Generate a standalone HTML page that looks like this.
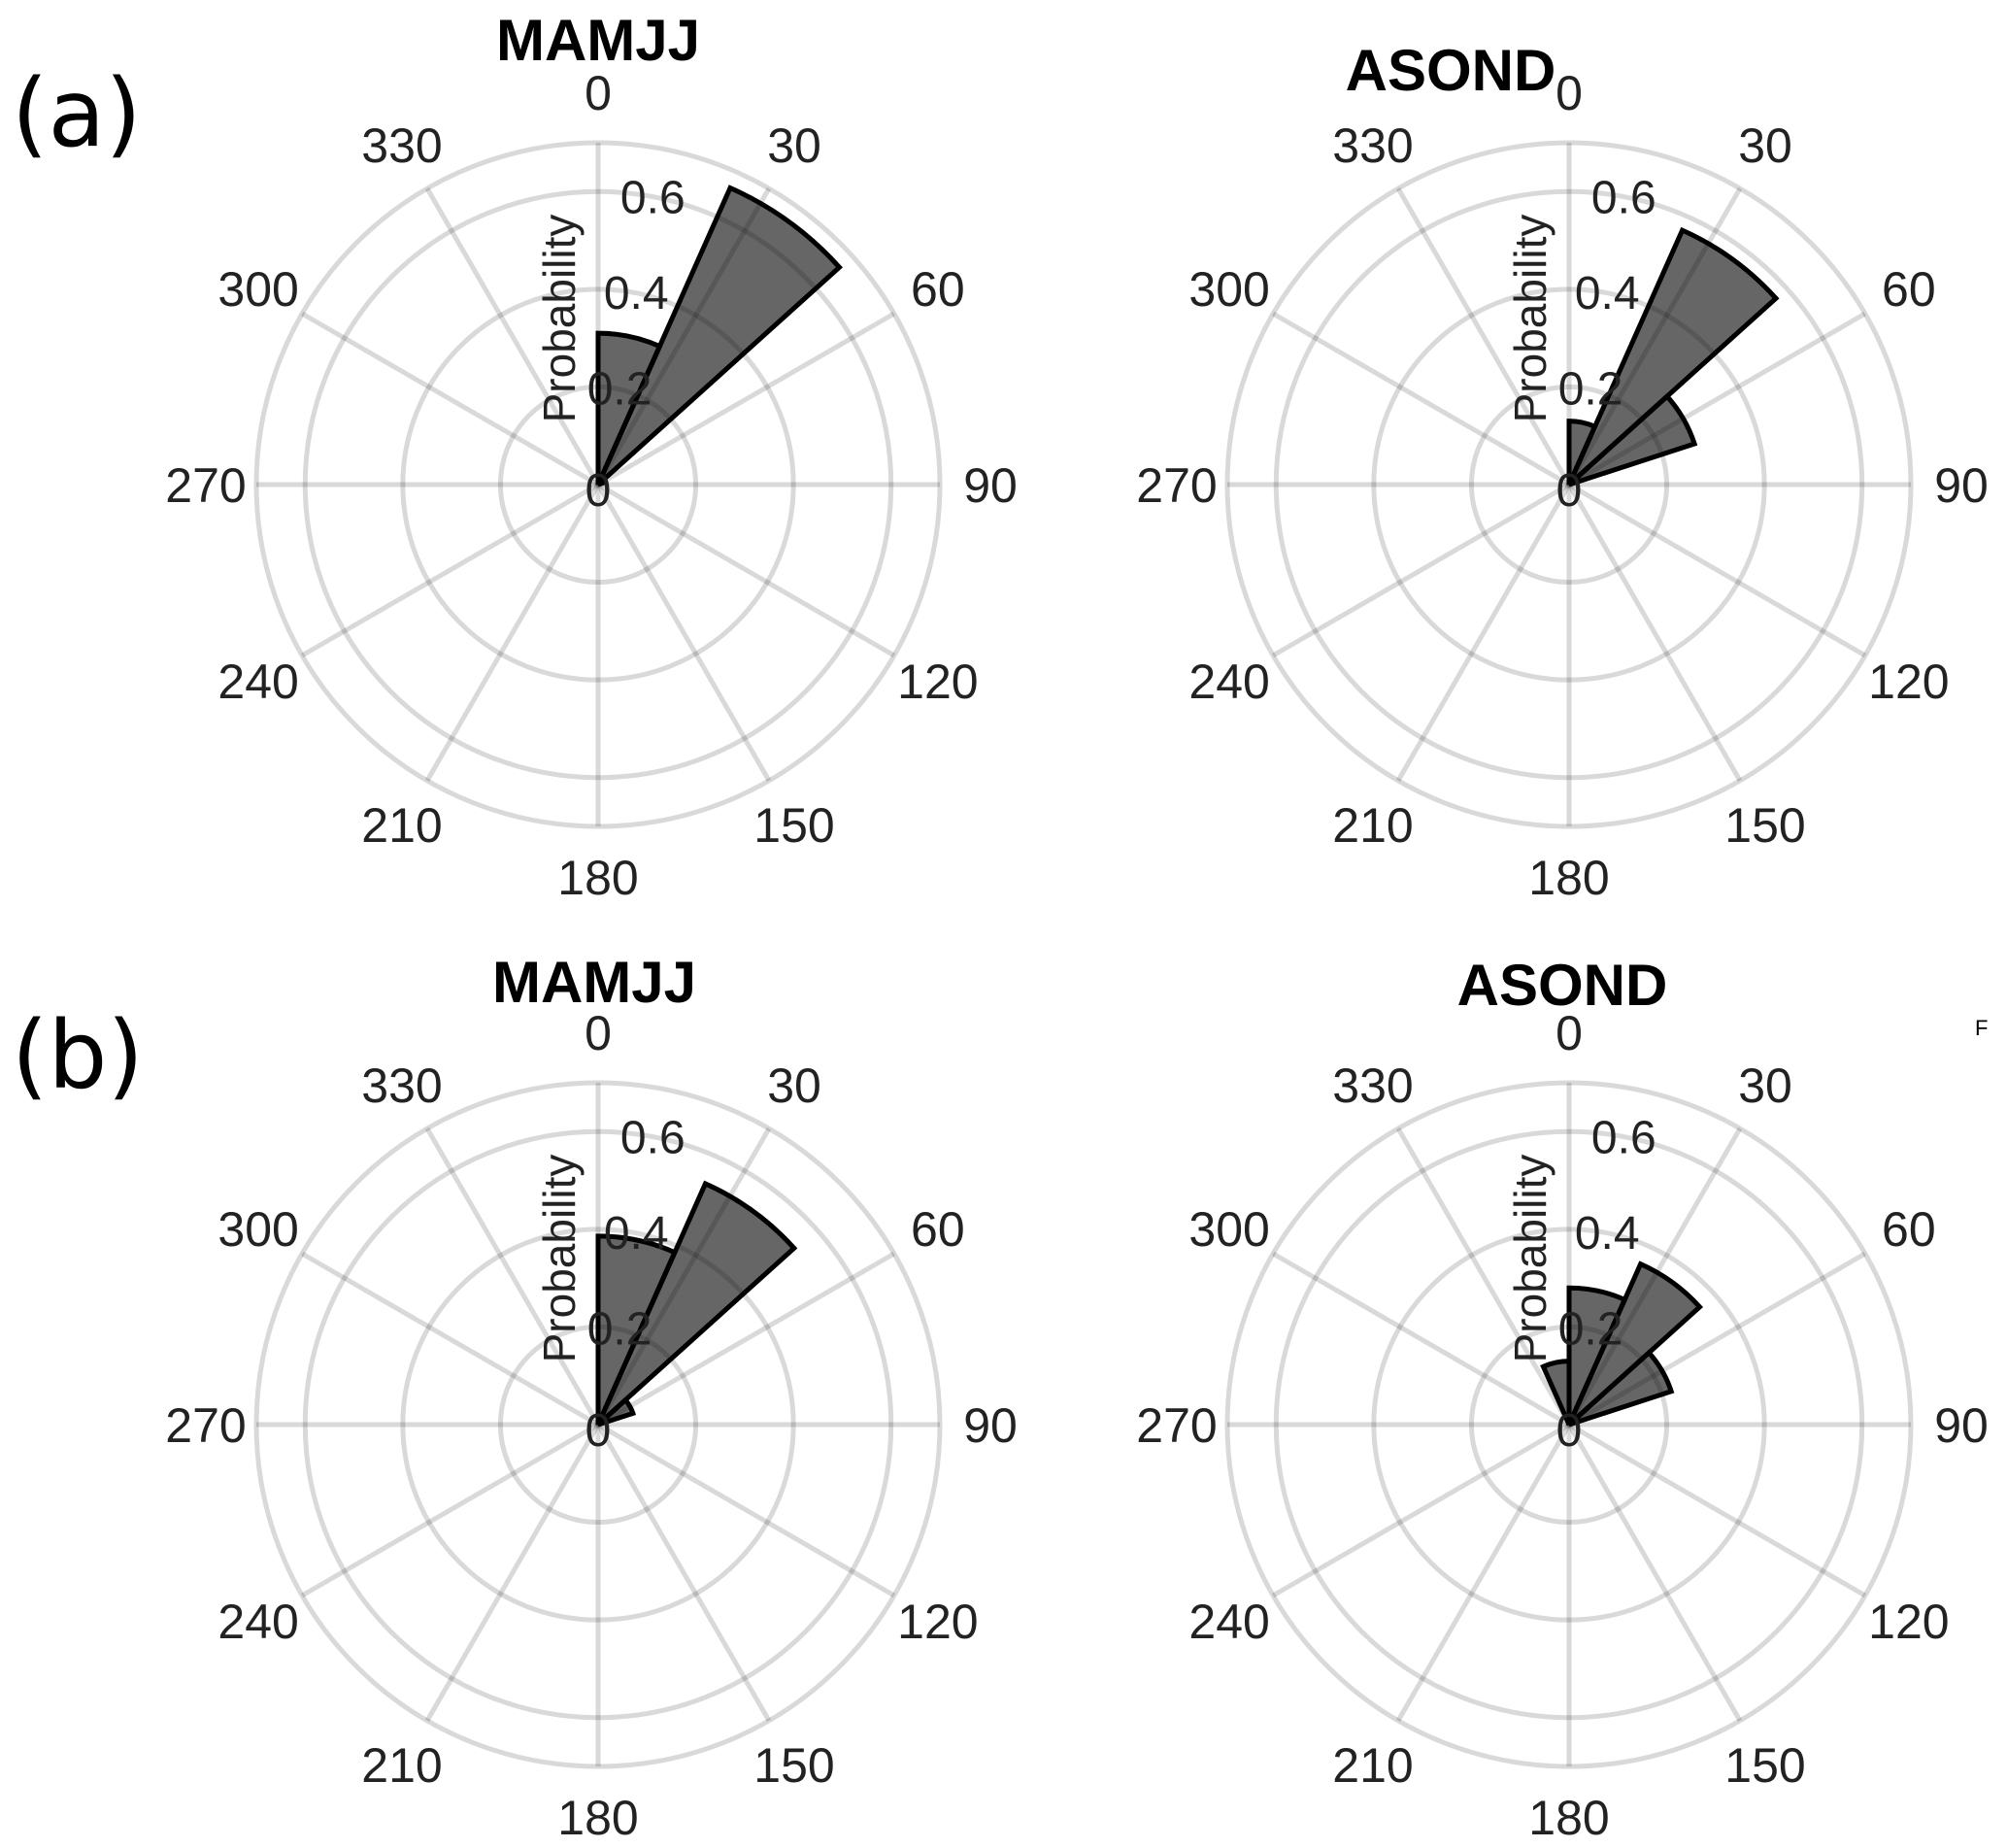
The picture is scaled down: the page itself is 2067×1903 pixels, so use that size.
<!DOCTYPE html>
<html><head><meta charset="utf-8"><style>
html,body{margin:0;padding:0;background:#fff;}
svg{display:block;}
</style></head><body>
<svg id="fig" width="2067" height="1903" viewBox="0 0 2067 1903" xmlns="http://www.w3.org/2000/svg" font-family="Liberation Sans, Arial, sans-serif">
<text x="12" y="150" font-family="DejaVu Sans, sans-serif" font-size="96" fill="#000">(a)</text>
<text x="12" y="1120" font-family="DejaVu Sans, sans-serif" font-size="96" fill="#000">(b)</text>
<text x="2034" y="1066" font-size="22" fill="#000">F</text>
</svg>
<script>
// Shared polar data
const binEdgesDeg = [0,24,48,72,96,120,144,168,192,216,240,264,288,312,336];
const binWidthDeg = 24;
const ringValues = [0.2, 0.4, 0.6];
const ringLabels = ["0.2", "0.4", "0.6"];
const rMax = 0.7;
const angleTicks = [0,30,60,90,120,150,180,210,240,270,300,330];
const angleLabels = ["0","30","60","90","120","150","180","210","240","270","300","330"];
// Per-panel probability values (one per 24° bin, clockwise from north)
const probA_MAMJJ = [0.31,0.665,0.01,0,0,0,0,0,0,0,0,0,0,0,0];
const probA_ASOND = [0.13,0.57,0.27,0,0,0,0,0,0,0,0,0,0,0,0];
const probB_MAMJJ = [0.386,0.54,0.075,0,0,0,0,0,0,0,0,0,0,0,0];
const probB_ASOND = [0.28,0.36,0.22,0,0,0,0,0,0,0,0,0,0,0,0.13];
const panelTitles = ["MAMJJ","ASOND","MAMJJ","ASOND"];

const NS = "http://www.w3.org/2000/svg";
const svg = document.getElementById('fig');
const R = 352;
function rScale(v){ return v / rMax * R; }
function pt(cx, cy, deg, r){ const a = deg*Math.PI/180; return [cx + r*Math.sin(a), cy - r*Math.cos(a)]; }
function mk(tag, attrs, parent){ const e = document.createElementNS(NS, tag); for (const k in attrs) e.setAttribute(k, attrs[k]); (parent||svg).appendChild(e); return e; }

function drawPanel(cx, cy, values, title, titleX, titleY, key){
  const g = mk('g', {});
  
  
  const grid = '#000';
  ringValues.concat([rMax]).forEach((v)=>{
    const c = mk('circle', {cx:cx, cy:cy, r:rScale(v), fill:'none', stroke:grid, 'stroke-opacity':0.15, 'stroke-width':5}, g);
    
    
  });
  angleTicks.forEach((a)=>{
    const p = pt(cx, cy, a, R);
    const l = mk('line', {x1:cx, y1:cy, x2:p[0], y2:p[1], stroke:grid, 'stroke-opacity':0.15, 'stroke-width':5}, g);
    
    
  });
  values.forEach((v, i)=>{
    if (v <= 0) return;
    const a0 = binEdgesDeg[i], a1 = a0 + binWidthDeg;
    const r = rScale(v);
    const p0 = pt(cx, cy, a0, r), p1 = pt(cx, cy, a1, r);
    const d = `M${cx},${cy} L${p0[0]},${p0[1]} A${r},${r} 0 0 1 ${p1[0]},${p1[1]} Z`;
    const b = mk('path', {d:d, fill:'#000', 'fill-opacity':0.6, stroke:'#000', 'stroke-width':5, 'stroke-linejoin':'miter'}, g);
    
    
  });
  angleTicks.forEach((a, i)=>{
    const p = pt(cx, cy, a, 404);
    const t = mk('text', {x:p[0], y:p[1]+18, 'text-anchor':'middle', 'font-size':50, fill:'#222'}, g);
    t.textContent = angleLabels[i];
    
    
  });
  ringValues.forEach((v, i)=>{
    const r = rScale(v);
    const t = mk('text', {x:cx + r*0.17 + 5, y:cy - r*0.98 + 16, 'text-anchor':'middle', 'font-size':48, fill:'#222'}, g);
    t.textContent = ringLabels[i];
    
    
  });
  const z = mk('text', {x:cx, y:cy+22, 'text-anchor':'middle', 'font-size':48, fill:'#222'}, g);
  z.textContent = '0';
  
  
  const yl = mk('text', {x:0, y:0, 'text-anchor':'middle', 'font-size':46, fill:'#222', transform:`translate(${cx-24},${cy-171}) rotate(-90)`}, g);
  yl.textContent = 'Probability';
  
  
  const tt = mk('text', {x:titleX, y:titleY, 'text-anchor':'middle', 'font-size':60, 'font-weight':'bold', fill:'#000'}, g);
  tt.textContent = title;
  
  
}

drawPanel(616, 499, probA_MAMJJ, panelTitles[0], 616, 62, 'a-mamjj');
drawPanel(1616, 499, probA_ASOND, panelTitles[1], 1494, 93, 'a-asond');
drawPanel(616, 1467, probB_MAMJJ, panelTitles[2], 612, 1032, 'b-mamjj');
drawPanel(1616, 1467, probB_ASOND, panelTitles[3], 1609, 1035, 'b-asond');
</script>
</body></html>
